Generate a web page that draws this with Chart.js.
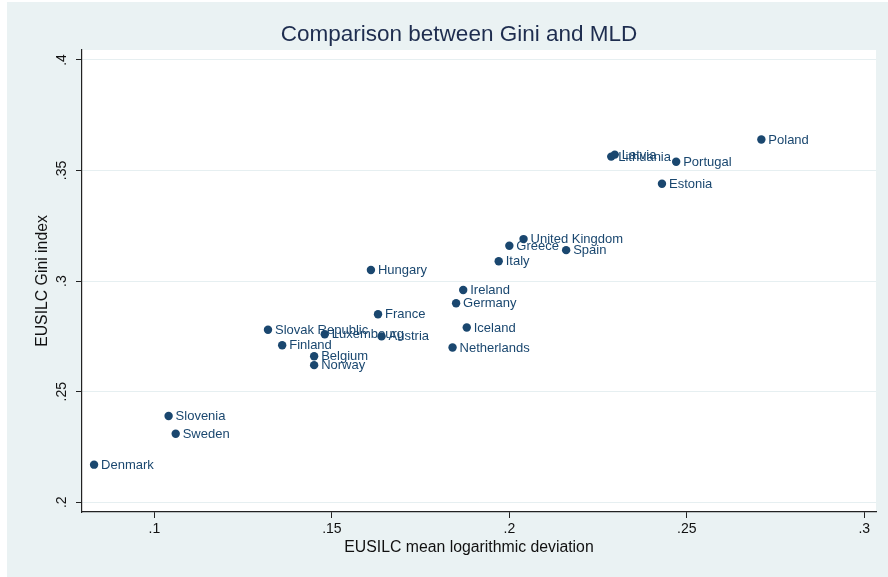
<!DOCTYPE html>
<html>
<head>
<meta charset="utf-8">
<script src="https://cdn.jsdelivr.net/npm/chart.js@4.4.1/dist/chart.umd.min.js"></script>
<style>
  html, body { margin: 0; padding: 0; background: #fff; }
  canvas { display: block; }
</style>
</head>
<body>
<canvas id="gini-chart" width="888" height="577"></canvas>
<script>
const countries = ['Denmark', 'Sweden', 'Slovenia', 'Norway', 'Belgium', 'Finland', 'Netherlands', 'Austria',
    'Luxembourg', 'Slovak Republic', 'Iceland', 'France', 'Germany', 'Ireland', 'Hungary', 'Italy', 'Spain',
    'Greece', 'United Kingdom', 'Estonia', 'Portugal', 'Lithuania', 'Latvia', 'Poland']
const mld = [0.083, 0.106, 0.104, 0.145, 0.145, 0.136, 0.184, 0.164, 0.148, 0.132, 0.188, 0.163, 0.185, 0.187,
    0.161, 0.197, 0.216, 0.200, 0.204, 0.243, 0.247, 0.2287, 0.2297, 0.271]
const gini = [0.217, 0.231, 0.239, 0.262, 0.266, 0.271, 0.270, 0.275, 0.276, 0.278, 0.279, 0.285, 0.290, 0.296,
    0.305, 0.309, 0.314, 0.316, 0.319, 0.344, 0.354, 0.3563, 0.3572, 0.364]
const xTicks = [0.1, 0.15, 0.2, 0.25, 0.3]
const xTickLabels = ['.1', '.15', '.2', '.25', '.3']
const yTicks = [0.2, 0.25, 0.3, 0.35, 0.4]
const yTickLabels = ['.2', '.25', '.3', '.35', '.4']

const FONT = '"Liberation Sans", Arial, Helvetica, sans-serif'
const NAVY = '#1a476f'

const points = mld.map((x, i) => ({ x: x, y: gini[i] }))

// stata-like background, title, x title and point labels
const decor = {
    id: 'decor',
    beforeDraw(chart) {
        const { ctx, chartArea } = chart
        ctx.save()
        ctx.fillStyle = '#ffffff'
        ctx.fillRect(0, 0, chart.width, chart.height)
        ctx.fillStyle = '#eaf2f3'
        ctx.fillRect(7, 2, chart.width - 7, chart.height - 2)
        ctx.fillStyle = '#ffffff'
        ctx.fillRect(chartArea.left, chartArea.top, chartArea.right - chartArea.left, chartArea.bottom - chartArea.top)
        ctx.restore()
    },
    afterDatasetsDraw(chart) {
        const { ctx } = chart
        const meta = chart.getDatasetMeta(0)
        ctx.save()
        ctx.font = '13px ' + FONT
        ctx.fillStyle = NAVY
        ctx.textBaseline = 'middle'
        ctx.textAlign = 'left'
        meta.data.forEach((pt, i) => {
            ctx.fillText(countries[i], pt.x + 7, pt.y + 0.5)
        })
        ctx.restore()
    },
    afterDraw(chart) {
        const { ctx } = chart
        ctx.save()
        ctx.textAlign = 'center'
        ctx.textBaseline = 'alphabetic'
        ctx.fillStyle = '#1e2d4f'
        ctx.font = '22.5px ' + FONT
        ctx.fillText('Comparison between Gini and MLD', 459, 41)
        ctx.fillStyle = '#111111'
        ctx.font = '15.8px ' + FONT
        ctx.fillText('EUSILC mean logarithmic deviation', 469, 552)
        ctx.restore()
    }
}

new Chart(document.getElementById('gini-chart').getContext('2d'), {
    type: 'scatter',
    data: {
        datasets: [{
            label: 'Gini vs MLD',
            data: points,
            backgroundColor: NAVY,
            borderColor: NAVY,
            borderWidth: 0,
            pointRadius: 4.2,
            pointHoverRadius: 4.2
        }]
    },
    options: {
        responsive: false,
        animation: false,
        events: [],
        layout: { padding: { top: 50, right: 12, left: 0, bottom: 0 } },
        plugins: {
            legend: { display: false },
            tooltip: { enabled: false },
            title: { display: false }
        },
        scales: {
            x: {
                type: 'linear',
                min: 0.0796,
                max: 0.3033,
                afterFit: scale => { scale.height = 65 },
                afterBuildTicks: scale => { scale.ticks = xTicks.map(v => ({ value: v })) },
                border: { display: true, color: '#222', width: 1.2 },
                grid: { drawOnChartArea: false, drawTicks: true, tickLength: 6, tickColor: '#222', tickWidth: 1 },
                ticks: {
                    color: '#111',
                    font: { family: FONT, size: 14 },
                    padding: 3,
                    maxRotation: 0,
                    autoSkip: false,
                    callback: (v, i) => xTickLabels[i]
                }
            },
            y: {
                type: 'linear',
                min: 0.1956,
                max: 0.4045,
                afterFit: scale => { scale.width = 82 },
                afterBuildTicks: scale => { scale.ticks = yTicks.map(v => ({ value: v })) },
                border: { display: true, color: '#222', width: 1.2 },
                grid: { color: '#e6eff1', lineWidth: 1, drawTicks: true, tickLength: 6, tickColor: '#222', tickWidth: 1 },
                ticks: {
                    color: '#111',
                    font: { family: FONT, size: 14 },
                    padding: 4,
                    minRotation: 90,
                    maxRotation: 90,
                    crossAlign: 'center',
                    autoSkip: false,
                    callback: (v, i) => yTickLabels[i]
                },
                title: {
                    display: true,
                    text: 'EUSILC Gini index',
                    color: '#111',
                    font: { family: FONT, size: 15.8 },
                    padding: { top: 33, bottom: 0 }
                }
            }
        }
    },
    plugins: [decor]
})
</script>
</body>
</html>
